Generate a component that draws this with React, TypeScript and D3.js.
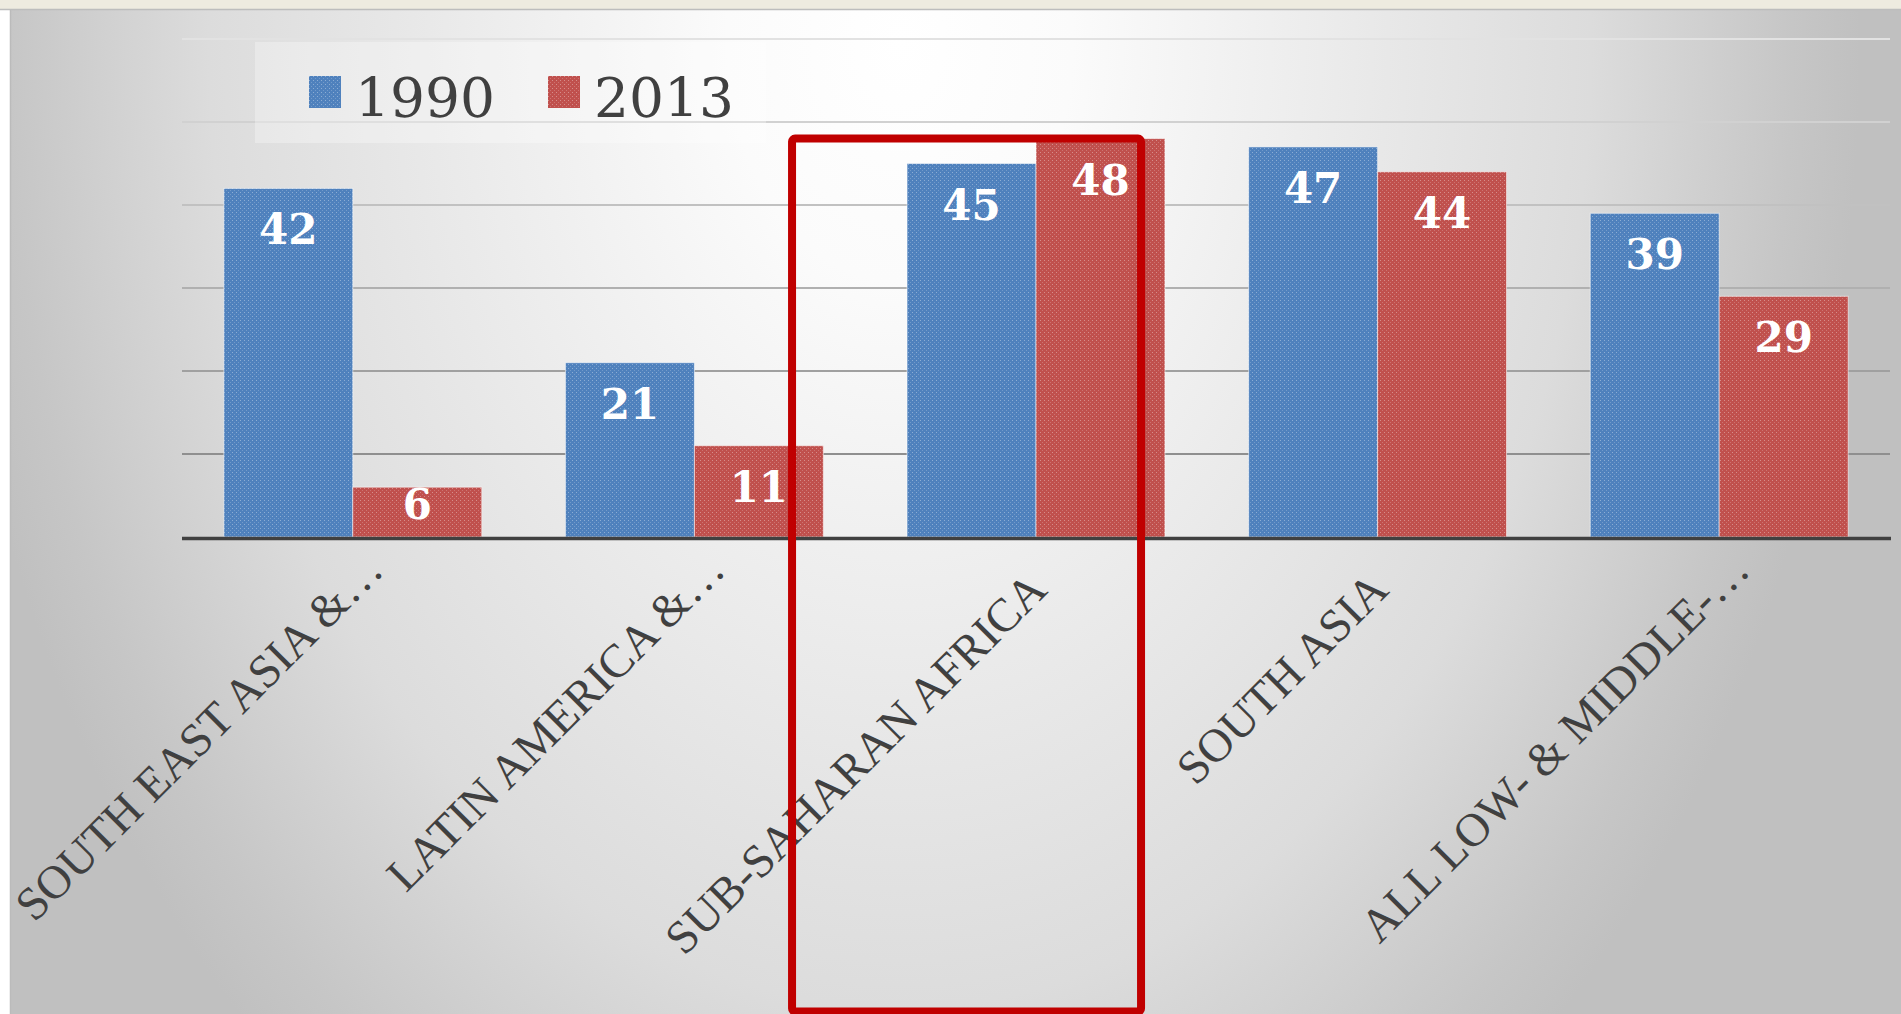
import * as d3 from 'd3';
import React, { useEffect, useRef } from 'react';

const categories = ['SOUTH EAST ASIA &…', 'LATIN AMERICA &…', 'SUB-SAHARAN AFRICA', 'SOUTH ASIA', 'ALL LOW- & MIDDLE-…'];
const seriesNames = ['1990', '2013'];
const values1990 = [42, 21, 45, 47, 39];
const values2013 = [6, 11, 48, 44, 29];
const gridTicks = [10, 20, 30, 40, 50, 60];
const highlighted = 'SUB-SAHARAN AFRICA';

const W = 1901;
const H = 1014;
const colors: { [k: string]: string } = { '1990': '#4F81BD', '2013': '#C0504D' };

interface Cell {
    cat: string;
    series: string;
    value: number;
}

export default function App() {
    const ref = useRef<SVGSVGElement>(null);

    useEffect(() => {
        const svg = d3.select(ref.current);
        svg.selectAll('*').remove();

        const defs = svg.append('defs');
        const bg = defs.append('radialGradient')
            .attr('id', 'bg')
            .attr('gradientUnits', 'userSpaceOnUse')
            .attr('cx', 0).attr('cy', 0).attr('r', 960)
            .attr('gradientTransform', 'translate(900,40) scale(1,1.4)');
        [
            [0, '#ffffff'],
            [0.18, '#fbfbfb'],
            [0.35, '#f1f1f1'],
            [0.72, '#dcdcdc'],
            [0.93, '#c6c6c6'],
            [1, '#c0c0c0'],
        ].forEach(([o, c]) => bg.append('stop').attr('offset', o).attr('stop-color', c as string));

        // fine dotted texture on the bars
        seriesNames.forEach(s => {
            const p = defs.append('pattern')
                .attr('id', 'pat' + s)
                .attr('patternUnits', 'userSpaceOnUse')
                .attr('width', 4).attr('height', 4);
            p.append('rect').attr('width', 4).attr('height', 4).attr('fill', colors[s]);
            p.append('rect').attr('width', 1).attr('height', 1).attr('fill', '#fff').attr('opacity', 0.35);
            p.append('rect').attr('x', 2).attr('y', 2).attr('width', 1).attr('height', 1).attr('fill', '#fff').attr('opacity', 0.2);
        });

        // slide background
        svg.append('rect').attr('width', W).attr('height', H).attr('fill', '#ffffff');
        svg.append('rect').attr('x', 10).attr('y', 10).attr('width', W - 10).attr('height', H - 10).attr('fill', 'url(#bg)');
        svg.append('rect').attr('width', W).attr('height', 9).attr('fill', '#EEEBE0');
        svg.append('line').attr('x1', 0).attr('x2', W).attr('y1', 9.5).attr('y2', 9.5).attr('stroke', '#bdbdbd').attr('stroke-width', 1.5);
        svg.append('line').attr('x1', 10.5).attr('x2', 10.5).attr('y1', 10).attr('y2', H).attr('stroke', '#bbbbbb').attr('stroke-width', 1.5);

        const left = 182;
        const right = 1890;
        const y = d3.scaleLinear().domain([0, 60]).range([537, 39]);
        const x0 = d3.scaleBand<string>().domain(categories).range([left, right]).paddingInner(0.245).paddingOuter(0.1225);
        const x1 = d3.scaleBand<string>().domain(seriesNames).range([0, x0.bandwidth()]);
        const gridColor = d3.scaleLinear<string>().domain([10, 60]).range(['#8f8f8f', '#e2e2e2']);

        svg.append('g')
            .selectAll('line')
            .data(gridTicks)
            .join('line')
            .attr('x1', left).attr('x2', right)
            .attr('y1', d => y(d)).attr('y2', d => y(d))
            .attr('stroke', d => gridColor(d))
            .attr('stroke-width', 2);

        // legend
        const lg = svg.append('g');
        lg.append('rect').attr('x', 255).attr('y', 42).attr('width', 511).attr('height', 101)
            .attr('fill', '#ffffff').attr('opacity', 0.3);
        const items = lg.selectAll('g')
            .data(seriesNames)
            .join('g')
            .attr('transform', (d, i) => `translate(${309 + i * 239},76)`);
        items.append('rect').attr('width', 32).attr('height', 32).attr('fill', d => `url(#pat${d})`);
        items.append('text')
            .attr('x', 46).attr('y', 41)
            .attr('font-family', '"DejaVu Serif", Georgia, serif')
            .attr('font-size', 55)
            .attr('fill', '#404040')
            .text(d => d);

        const cells: Cell[] = categories.flatMap((c, i) => [
            { cat: c, series: '1990', value: values1990[i] },
            { cat: c, series: '2013', value: values2013[i] },
        ]);

        const bars = svg.append('g');
        bars.selectAll('rect')
            .data(cells)
            .join('rect')
            .attr('x', d => (x0(d.cat) as number) + (x1(d.series) as number))
            .attr('y', d => y(d.value))
            .attr('width', x1.bandwidth())
            .attr('height', d => y(0) - y(d.value))
            .attr('fill', d => `url(#pat${d.series})`)
            .attr('stroke', 'rgba(255,255,255,0.55)')
            .attr('stroke-width', 1);

        bars.selectAll('text')
            .data(cells)
            .join('text')
            .attr('x', d => (x0(d.cat) as number) + (x1(d.series) as number) + x1.bandwidth() / 2)
            .attr('y', d => Math.min(y(d.value) + 56, y(0) - 18))
            .attr('text-anchor', 'middle')
            .attr('font-family', '"DejaVu Serif", Georgia, serif')
            .attr('font-weight', 'bold')
            .attr('font-size', 42)
            .attr('fill', '#ffffff')
            .text(d => d.value);

        // x axis
        svg.append('line')
            .attr('x1', left).attr('x2', right + 1)
            .attr('y1', y(0) + 1.5).attr('y2', y(0) + 1.5)
            .attr('stroke', '#404040').attr('stroke-width', 3.5);

        svg.append('g')
            .selectAll('text')
            .data(categories)
            .join('text')
            .attr('transform', d => `translate(${(x0(d) as number) + x0.bandwidth() / 2 + 13},592) rotate(-45)`)
            .attr('x', d => (d.endsWith('…') ? 28 : 0))
            .attr('text-anchor', 'end')
            .attr('font-family', '"Liberation Serif", "Times New Roman", serif')
            .attr('font-size', 47)
            .attr('fill', '#404040')
            .text(d => d);

        // highlight box round the selected region
        const hi = categories.indexOf(highlighted);
        const hx = x0(highlighted) as number;
        svg.append('rect')
            .attr('x', hx - 115)
            .attr('y', y(Math.max(values1990[hi], values2013[hi])))
            .attr('width', 349)
            .attr('height', 873)
            .attr('rx', 3)
            .attr('fill', 'none')
            .attr('stroke', '#C00000')
            .attr('stroke-width', 8);
    }, []);

    return (
        <svg
            ref={ref}
            width={W}
            height={H}
            style={{ position: 'absolute', left: 0, top: 0, display: 'block' }}
        />
    );
}
